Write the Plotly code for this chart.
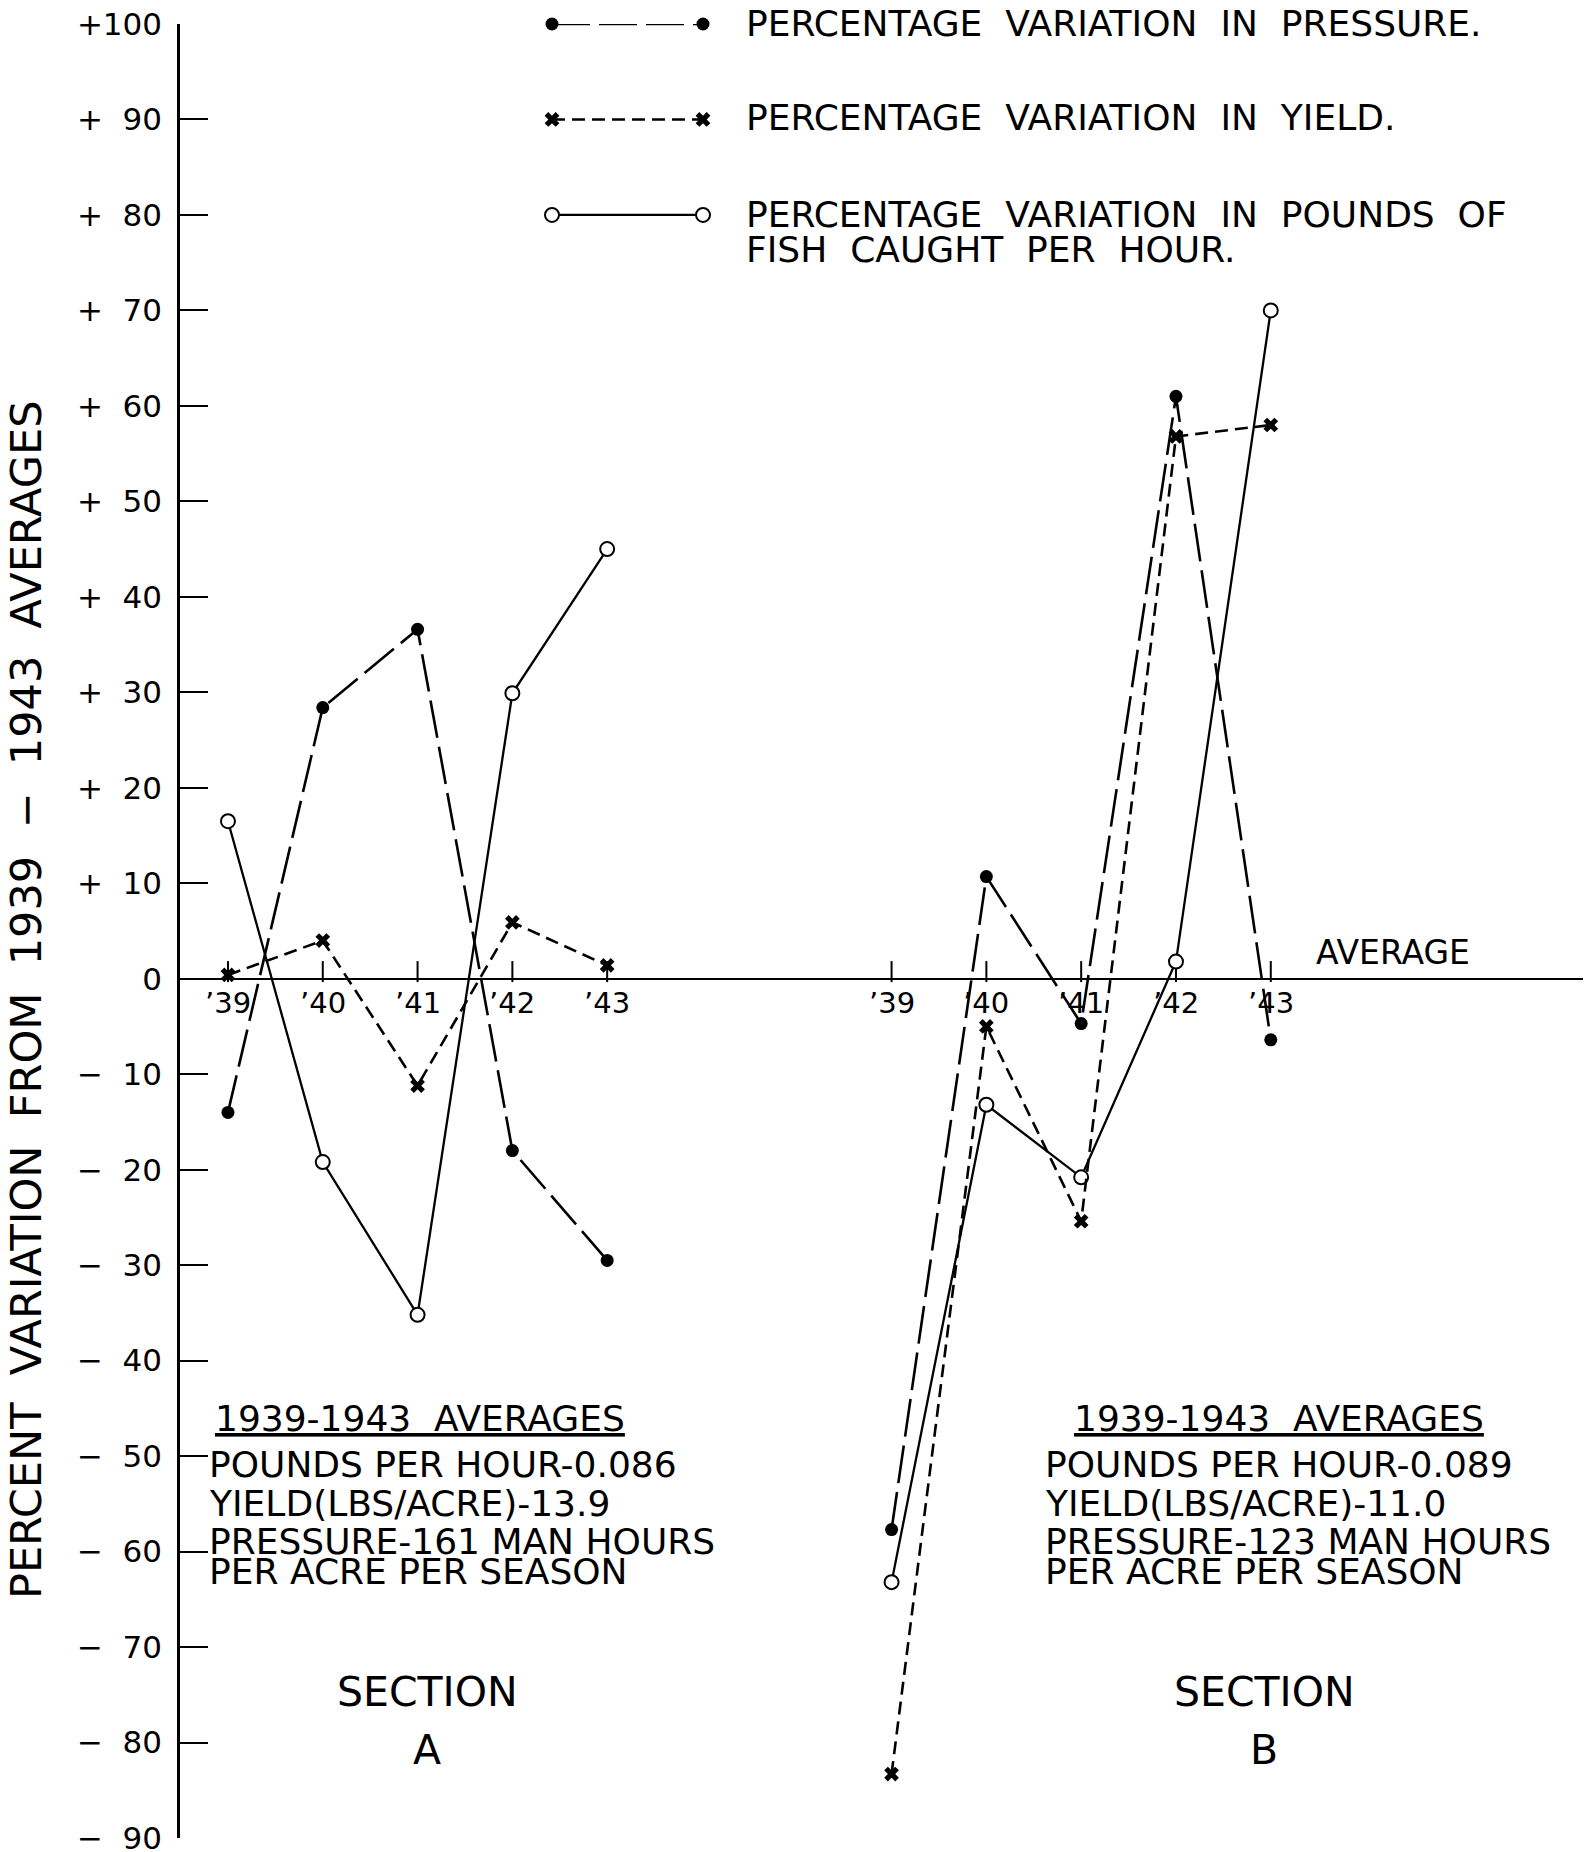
import plotly.graph_objects as go

# ---------------- data ----------------
YEAR_LABELS = ["’39", "’40", "’41", "’42", "’43"]
YEAR_INDEX = [0, 1, 2, 3, 4]
SECTION_NAMES = ["A", "B"]
SECTION_OFFSET = [0, 7]          # horizontal position of each section's '39

A_PRESSURE = [-14.0, 28.4, 36.6, -18.0, -29.5]
A_YIELD = [0.4, 4.0, -11.2, 5.9, 1.4]
A_POUNDS = [16.5, -19.2, -35.2, 29.9, 45.0]

B_PRESSURE = [-57.7, 10.7, -4.7, 61.0, -6.4]
B_YIELD = [-83.3, -5.0, -25.4, 56.8, 58.0]
B_POUNDS = [-63.2, -13.2, -20.8, 1.8, 70.0]

Y_TICKS = list(range(-90, 101, 10))

AVG_A = ["POUNDS PER HOUR-0.086", "YIELD(LBS/ACRE)-13.9",
         "PRESSURE-161 MAN HOURS", "PER ACRE PER SEASON"]
AVG_B = ["POUNDS PER HOUR-0.089", "YIELD(LBS/ACRE)-11.0",
         "PRESSURE-123 MAN HOURS", "PER ACRE PER SEASON"]

LEGEND_TEXT = ["PERCENTAGE  VARIATION  IN  PRESSURE.",
               "PERCENTAGE  VARIATION  IN  YIELD.",
               "PERCENTAGE  VARIATION  IN  POUNDS  OF",
               "FISH  CAUGHT  PER  HOUR."]

# ---------------- layout constants ----------------
W, H = 1588, 1852
L, R, T, B = 180, 5, 24, 14
PX_PER_UNIT = 94.8
X0 = -0.506
X1 = X0 + (W - L - R) / PX_PER_UNIT
FONT = "DejaVu Sans"
INK = "black"


def px(x):   # figure pixel -> paper x
    return (x - L) / (W - L - R)


def py(y):   # figure pixel -> paper y
    return (H - B - y) / (H - T - B)


def dx(x):   # figure pixel -> data x
    return X0 + (x - L) / PX_PER_UNIT


def note(text, x, y, size, xanchor="center", **kw):
    fig.add_annotation(x=px(x), y=py(y), xref="paper", yref="paper",
                       text=text, showarrow=False, xanchor=xanchor,
                       yanchor="middle", align="left",
                       font=dict(family=FONT, size=size, color=INK), **kw)


STYLES = {
    "pressure": dict(line=dict(color=INK, width=2.6, dash="38px,9px"),
                     marker=dict(symbol="circle", size=13, color=INK)),
    "yield": dict(line=dict(color=INK, width=2.6, dash="13px,7px"),
                  marker=dict(symbol="x", size=13, color=INK,
                              line=dict(width=0))),
    "pounds": dict(line=dict(color=INK, width=2.3),
                   marker=dict(symbol="circle", size=14, color="white",
                               line=dict(color=INK, width=2))),
}

fig = go.Figure()

series = {
    "A": {"pressure": A_PRESSURE, "yield": A_YIELD, "pounds": A_POUNDS},
    "B": {"pressure": B_PRESSURE, "yield": B_YIELD, "pounds": B_POUNDS},
}

for sec, off in zip(SECTION_NAMES, SECTION_OFFSET):
    xs = [i + off for i in YEAR_INDEX]
    # year tick marks above the average line
    fig.add_trace(go.Scatter(x=xs, y=[0.75] * len(xs), mode="markers",
                             marker=dict(symbol="line-ns", size=15,
                                         line=dict(color=INK, width=2)),
                             showlegend=False, hoverinfo="skip"))
    for key in ["pounds", "yield", "pressure"]:
        st = STYLES[key]
        fig.add_trace(go.Scatter(x=xs, y=series[sec][key], mode="lines+markers",
                                 line=st["line"], marker=st["marker"],
                                 showlegend=False, cliponaxis=False))
    for xv, lab in zip(xs, YEAR_LABELS):
        fig.add_annotation(x=xv, y=0, xref="x", yref="y", text=lab,
                           showarrow=False, xanchor="center", yanchor="top",
                           yshift=-5,
                           font=dict(family=FONT, size=29, color=INK))

# manual legend
LEG_X = [dx(552), dx(703)]
for key, yv in zip(["pressure", "yield", "pounds"], [100, 90, 80]):
    st = STYLES[key]
    fig.add_trace(go.Scatter(x=LEG_X, y=[yv, yv], mode="lines+markers",
                             line=st["line"], marker=st["marker"],
                             showlegend=False, cliponaxis=False, hoverinfo="skip"))
for txt, ypix in zip(LEGEND_TEXT, [23, 118, 214, 250]):
    note(txt, 744, ypix, 36, xanchor="left")

# y-axis title
note("PERCENT  VARIATION  FROM  1939  −  1943  AVERAGES", 26, 1000, 43,
     textangle=-90)

# "AVERAGE" label
note("AVERAGE", 1314, 952, 33, xanchor="left")

# averages blocks
for lines, head_cx, left in [(AVG_A, 420, 207), (AVG_B, 1279, 1043)]:
    note("<u>1939-1943  AVERAGES</u>", head_cx, 1418, 36)
    for txt, ypix in zip(lines, [1465, 1503, 1541, 1571]):
        note(txt, left, ypix, 36, xanchor="left")

for sec, cx in zip(SECTION_NAMES, [427, 1264]):
    note("SECTION", cx, 1692, 41)
    note(sec, cx, 1750, 41)


def tick_text(v):
    if v == 100:
        return "+100"
    if v > 0:
        return "+\u00a0\u00a0" + str(v)
    if v == 0:
        return "0"
    return "−\u00a0\u00a0" + str(-v)


fig.update_layout(
    width=W, height=H,
    margin=dict(l=L, r=R, t=T, b=B, autoexpand=False),
    paper_bgcolor="white", plot_bgcolor="white",
    showlegend=False,
    xaxis=dict(range=[X0, X1], visible=False, fixedrange=True,
               automargin=False),
    yaxis=dict(range=[-90, 100], showgrid=False, automargin=False,
               zeroline=True, zerolinecolor=INK, zerolinewidth=2,
               showline=True, linecolor=INK, linewidth=2.5,
               ticks="inside", ticklen=28, tickwidth=2, tickcolor=INK,
               tickvals=Y_TICKS, ticktext=[tick_text(v) for v in Y_TICKS],
               ticklabelstandoff=9, ticklabeloverflow="allow",
               tickfont=dict(family=FONT, size=31, color=INK)),
)

fig.write_html("out.html")
